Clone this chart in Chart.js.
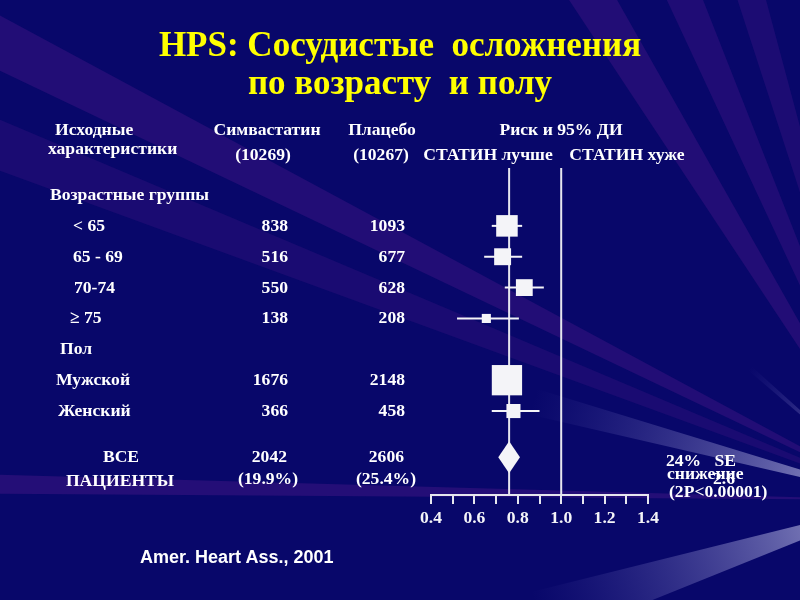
<!DOCTYPE html>
<html>
<head>
<meta charset="utf-8">
<script src="https://cdn.jsdelivr.net/npm/chart.js@4.4.1/dist/chart.umd.min.js"></script>
<style>
  html, body { margin: 0; padding: 0; background: #08076a; }
  #wrap { position: relative; width: 800px; height: 600px; overflow: hidden; }
  #chart { position: absolute; left: 0; top: 0; }
  .t {
    position: absolute;
    white-space: pre;
    color: #fff;
    font-family: "Liberation Serif", "Times New Roman", serif;
    font-weight: bold;
    font-size: 17.6px;
    line-height: 1;
  }
  .title {
    position: absolute;
    left: 0; width: 800px;
    text-align: center;
    white-space: pre;
    color: #ffff00;
    font-family: "Liberation Serif", "Times New Roman", serif;
    font-weight: bold;
    font-size: 35px;
    line-height: 1;
  }
  .src {
    position: absolute;
    color: #fff;
    font-family: "Liberation Sans", Arial, sans-serif;
    font-weight: bold;
    font-size: 18px;
    line-height: 1;
  }
</style>
</head>
<body>
<div id="wrap">
  <canvas id="chart" width="800" height="600"></canvas>
  <div class="title" style="top:27px">HPS: Сосудистые  осложнения</div>
  <div class="title" style="top:65px">по возрасту  и полу</div>
  <div class="src" style="left:140px; top:548px">Amer. Heart Ass., 2001</div>
</div>
<script>
// table rows (index = row position on the y scale)
const rowLabels = ['Возрастные группы', '< 65', '65 - 69', '70-74', '≥ 75', 'Пол', 'Мужской', 'Женский'];
const simvastatin = [null, 838, 516, 550, 138, null, 1676, 366];
const placebo = [null, 1093, 677, 628, 208, null, 2148, 458];

// risk ratio and 95% CI
const riskRatio = [null, 0.75, 0.73, 0.83, 0.655, null, 0.75, 0.78];
const ciLow = [null, 0.68, 0.645, 0.74, 0.52, null, 0.71, 0.68];
const ciHigh = [null, 0.82, 0.82, 0.92, 0.805, null, 0.79, 0.90];

// all patients
const totalEvents = [2042, 2606];
const totalPercent = ['(19.9%)', '(25.4%)'];
const overallRisk = [0.71, 0.76, 0.81]; // low, estimate, high

const xTickLabels = ['0.4', '0.6', '0.8', '1.0', '1.2', '1.4'];

const Y_MIN = -0.875, Y_MAX = 9.72, ALL_ROW = 8.5;
const WHITE = '#f4f4f8';

// background rays from a point off the bottom-right corner
const rays = [
  { a: [205.5, 208.3], c: 'rgba(60,20,130,0.50)' },
  { a: [200.1, 202.9], c: 'rgba(60,20,130,0.35)' },
  { a: [180.4, 181.6], c: 'rgba(60,20,130,0.55)' },
  { a: [236.5, 240.5], c: 'rgba(60,20,130,0.50)' },
  { a: [245.0, 248.5], c: 'rgba(60,20,130,0.45)' },
  { a: [252.0, 255.0], c: 'rgba(60,20,130,0.40)' },
  { a: [193.0, 197.0], c: 'light', r: 380 },
  { a: [158.0, 166.0], c: 'light', r: 380 },
  { a: [220.5, 222.0], c: 'light', r: 200 }
];

const backgroundPlugin = {
  id: 'bg',
  beforeDraw(chart) {
    const ctx = chart.ctx;
    const fx = 900, fy = 500;
    ctx.save();
    ctx.fillStyle = '#08076a';
    ctx.fillRect(0, 0, chart.width, chart.height);
    rays.forEach(r => {
      const a1 = r.a[0] * Math.PI / 180, a2 = r.a[1] * Math.PI / 180;
      ctx.beginPath();
      ctx.moveTo(fx, fy);
      ctx.lineTo(fx + 1500 * Math.cos(a1), fy + 1500 * Math.sin(a1));
      ctx.lineTo(fx + 1500 * Math.cos(a2), fy + 1500 * Math.sin(a2));
      ctx.closePath();
      if (r.c === 'light') {
        const g = ctx.createRadialGradient(fx, fy, 0, fx, fy, r.r);
        g.addColorStop(0, 'rgba(235,235,255,0.75)');
        g.addColorStop(0.35, 'rgba(200,200,240,0.45)');
        g.addColorStop(1, 'rgba(120,110,200,0)');
        ctx.fillStyle = g;
      } else {
        ctx.fillStyle = r.c;
      }
      ctx.fill();
    });
    ctx.restore();
  }
};

const diamondPlugin = {
  id: 'diamond',
  afterDatasetsDraw(chart) {
    const { ctx, scales: { x, y } } = chart;
    const yc = y.getPixelForValue(ALL_ROW);
    const xl = x.getPixelForValue(overallRisk[0]);
    const xm = x.getPixelForValue(overallRisk[1]);
    const xr = x.getPixelForValue(overallRisk[2]);
    ctx.save();
    ctx.fillStyle = WHITE;
    ctx.beginPath();
    ctx.moveTo(xl, yc);
    ctx.lineTo(xm, yc - 16);
    ctx.lineTo(xr, yc);
    ctx.lineTo(xm, yc + 16);
    ctx.closePath();
    ctx.fill();
    ctx.restore();
  }
};

const rows = rowLabels.map((l, i) => i).filter(i => riskRatio[i] !== null);

const whiskers = rows.map(i => ({
  type: 'line',
  data: [{ x: ciLow[i], y: i }, { x: ciHigh[i], y: i }],
  borderColor: WHITE,
  borderWidth: 2,
  pointRadius: 0,
  showLine: true,
  order: 2
}));

// square side grows with the number of events in the row
const squares = {
  type: 'scatter',
  data: rows.map(i => ({ x: riskRatio[i], y: i })),
  backgroundColor: WHITE,
  borderWidth: 0,
  pointStyle: 'rect',
  pointRadius: rows.map(i => 0.49 * Math.sqrt(simvastatin[i] + placebo[i]) / Math.SQRT2),
  order: 1
};

const refLines = [1.0, overallRisk[1]].map(v => ({
  type: 'line',
  data: [{ x: v, y: Y_MIN }, { x: v, y: Y_MAX }],
  borderColor: '#e6e6ee',
  borderWidth: 2,
  pointRadius: 0,
  showLine: true,
  order: 3
}));

const chart = new Chart(document.getElementById('chart'), {
  type: 'scatter',
  data: { datasets: [...refLines, ...whiskers, squares] },
  options: {
    responsive: false,
    animation: false,
    events: [],
    layout: { padding: { left: 431, right: 152, top: 168, bottom: 65 } },
    plugins: { legend: { display: false }, tooltip: { enabled: false } },
    scales: {
      x: {
        type: 'linear',
        min: 0.4,
        max: 1.4,
        afterFit: (scale) => { scale.height = 40; },
        ticks: {
          stepSize: 0.1,
          autoSkip: false,
          maxRotation: 0,
          padding: 4,
          color: WHITE,
          font: { family: '"Liberation Serif", serif', weight: 'bold', size: 17.6 },
          callback: (v) => {
            const k = Math.round(v * 10);
            return k % 2 === 0 ? xTickLabels[(k - 4) / 2] : '';
          }
        },
        grid: { drawOnChartArea: false, drawTicks: true, tickLength: 9, color: '#e6e6ee', lineWidth: 2 },
        border: { color: '#e6e6ee', width: 2 }
      },
      y: {
        type: 'linear',
        display: false,
        reverse: true,
        min: Y_MIN,
        max: Y_MAX
      }
    }
  },
  plugins: [backgroundPlugin, diamondPlugin]
});

// text of the table, placed on the rows of the y scale
const wrap = document.getElementById('wrap');
function addText(str, x, y, align) {
  const d = document.createElement('div');
  d.className = 't';
  d.textContent = str;
  d.style.left = x + 'px';
  d.style.top = y + 'px';
  const tx = align === 'right' ? '-100%' : align === 'center' ? '-50%' : '0';
  d.style.transform = 'translate(' + tx + ', -50%)';
  wrap.appendChild(d);
  return d;
}

// column headers
addText('Исходные', 55, 130);
addText('характеристики', 48, 149);
addText('Симвастатин', 267, 130, 'center');
addText('(10269)', 263, 155, 'center');
addText('Плацебо', 382, 130, 'center');
addText('(10267)', 381, 155, 'center');
addText('Риск и 95% ДИ', 561, 130, 'center');
addText('СТАТИН лучше', 488, 155, 'center');
addText('СТАТИН хуже', 627, 155, 'center');

const yScale = chart.scales.y;
const labelX = [50, 73, 73, 74, 70, 60, 56, 58];
rowLabels.forEach((l, i) => {
  const py = yScale.getPixelForValue(i);
  addText(l, labelX[i], py);
  if (simvastatin[i] !== null) addText(String(simvastatin[i]), 288, py, 'right');
  if (placebo[i] !== null) addText(String(placebo[i]), 405, py, 'right');
});

const pyAll = yScale.getPixelForValue(ALL_ROW);
addText('ВСЕ', 121, pyAll, 'center');
addText('ПАЦИЕНТЫ', 120, pyAll + 24, 'center');
addText(String(totalEvents[0]), 287, pyAll, 'right');
addText(String(totalEvents[1]), 404, pyAll, 'right');
addText(totalPercent[0], 268, pyAll + 22, 'center');
addText(totalPercent[1], 386, pyAll + 22, 'center');

addText('2.6', 713, pyAll + 22);
addText('24%   SE', 666, pyAll + 4);
addText('снижение', 667, pyAll + 17);
addText('(2P<0.00001)', 669, pyAll + 35);
</script>
</body>
</html>
